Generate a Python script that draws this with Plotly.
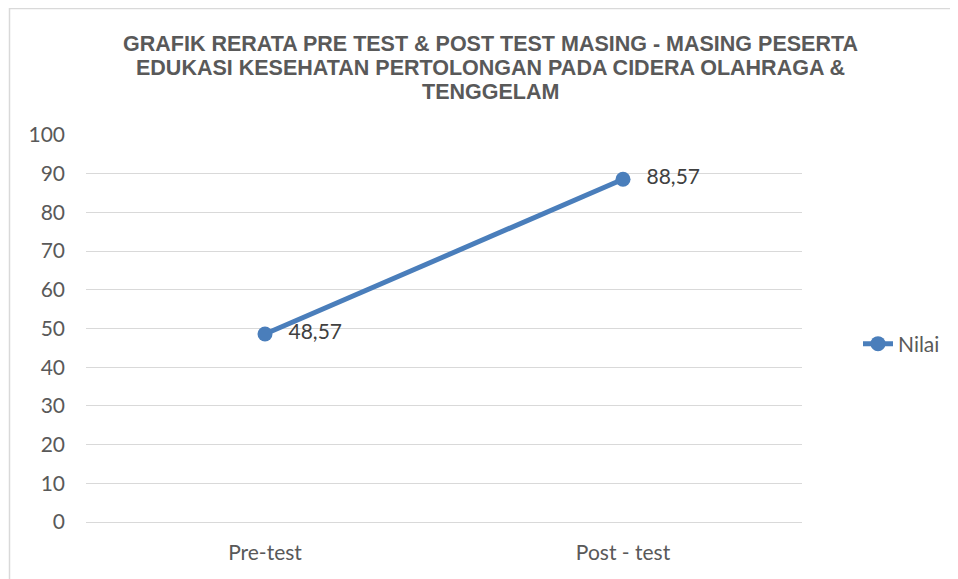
import plotly.graph_objects as go

categories = ["Pre-test", "Post - test"]
nilai = [48.57, 88.57]
y_ticks = [0, 10, 20, 30, 40, 50, 60, 70, 80, 90, 100]
series_name = "Nilai"
title_lines = ["GRAFIK RERATA PRE TEST & POST TEST MASING - MASING PESERTA",
               "EDUKASI KESEHATAN PERTOLONGAN PADA CIDERA OLAHRAGA &",
               "TENGGELAM"]

labels = ["\u2002\u2009" + f"{v:.2f}".replace(".", ",") for v in nilai]

OFF = 8  # page body offset
W, H = 958 - 2 * OFF, 571
PL, PR, PT, PB = 86, 802, 135, 522  # plot area in reference pixels
pw, ph = PR - PL, PB - PT

def px(x):
    return (x - PL) / pw

def py(y):
    return (PB - y) / ph

FONT = "Lato, Carlito, sans-serif"

fig = go.Figure()
fig.add_trace(go.Scatter(
    x=categories, y=nilai, name=series_name,
    mode="lines+markers+text",
    text=labels, textposition="middle right",
    textfont=dict(family=FONT, size=21, color="#404040"),
    line=dict(color="#4A7EBB", width=5),
    marker=dict(color="#4A7EBB", size=15),
    showlegend=True,
))

title_y = [44, 68, 92]
annotations = [dict(text=t, xref="paper", yref="paper", x=px(490), y=py(yy),
                    xanchor="center", yanchor="middle", showarrow=False,
                    font=dict(family="Liberation Sans, Arial, sans-serif", size=21.5,
                              color="#595959", weight="bold"))
               for t, yy in zip(title_lines, title_y)]

fig.update_layout(
    width=W, height=H,
    margin=dict(l=PL - OFF, r=W - (PR - OFF), t=PT - OFF, b=H - (PB - OFF), autoexpand=False),
    paper_bgcolor="white", plot_bgcolor="white",
    annotations=annotations,
    xaxis=dict(type="category", range=[-0.5, 1.5], showgrid=False, showline=False, zeroline=False,
               automargin=False,
               tickfont=dict(family=FONT, size=21, color="#595959"),
               ticklabelstandoff=16),
    yaxis=dict(range=[0, 100], tickvals=y_ticks, showgrid=True, gridcolor="#D9D9D9", gridwidth=1,
               zeroline=True, zerolinecolor="#D9D9D9", zerolinewidth=1, showline=False,
               automargin=False,
               tickfont=dict(family=FONT, size=21, color="#595959"),
               ticklabelstandoff=20),
    legend=dict(x=px(858), y=py(344), xanchor="left", yanchor="middle",
                font=dict(family=FONT, size=21, color="#595959"),
                bgcolor="rgba(0,0,0,0)"),
    shapes=[dict(type="rect", xref="paper", yref="paper",
                 x0=px(9.5), x1=px(990), y0=py(600), y1=py(8.5),
                 line=dict(color="#D9D9D9", width=1.5), fillcolor="rgba(0,0,0,0)", layer="below")],
)

fig.write_html("out.html")
